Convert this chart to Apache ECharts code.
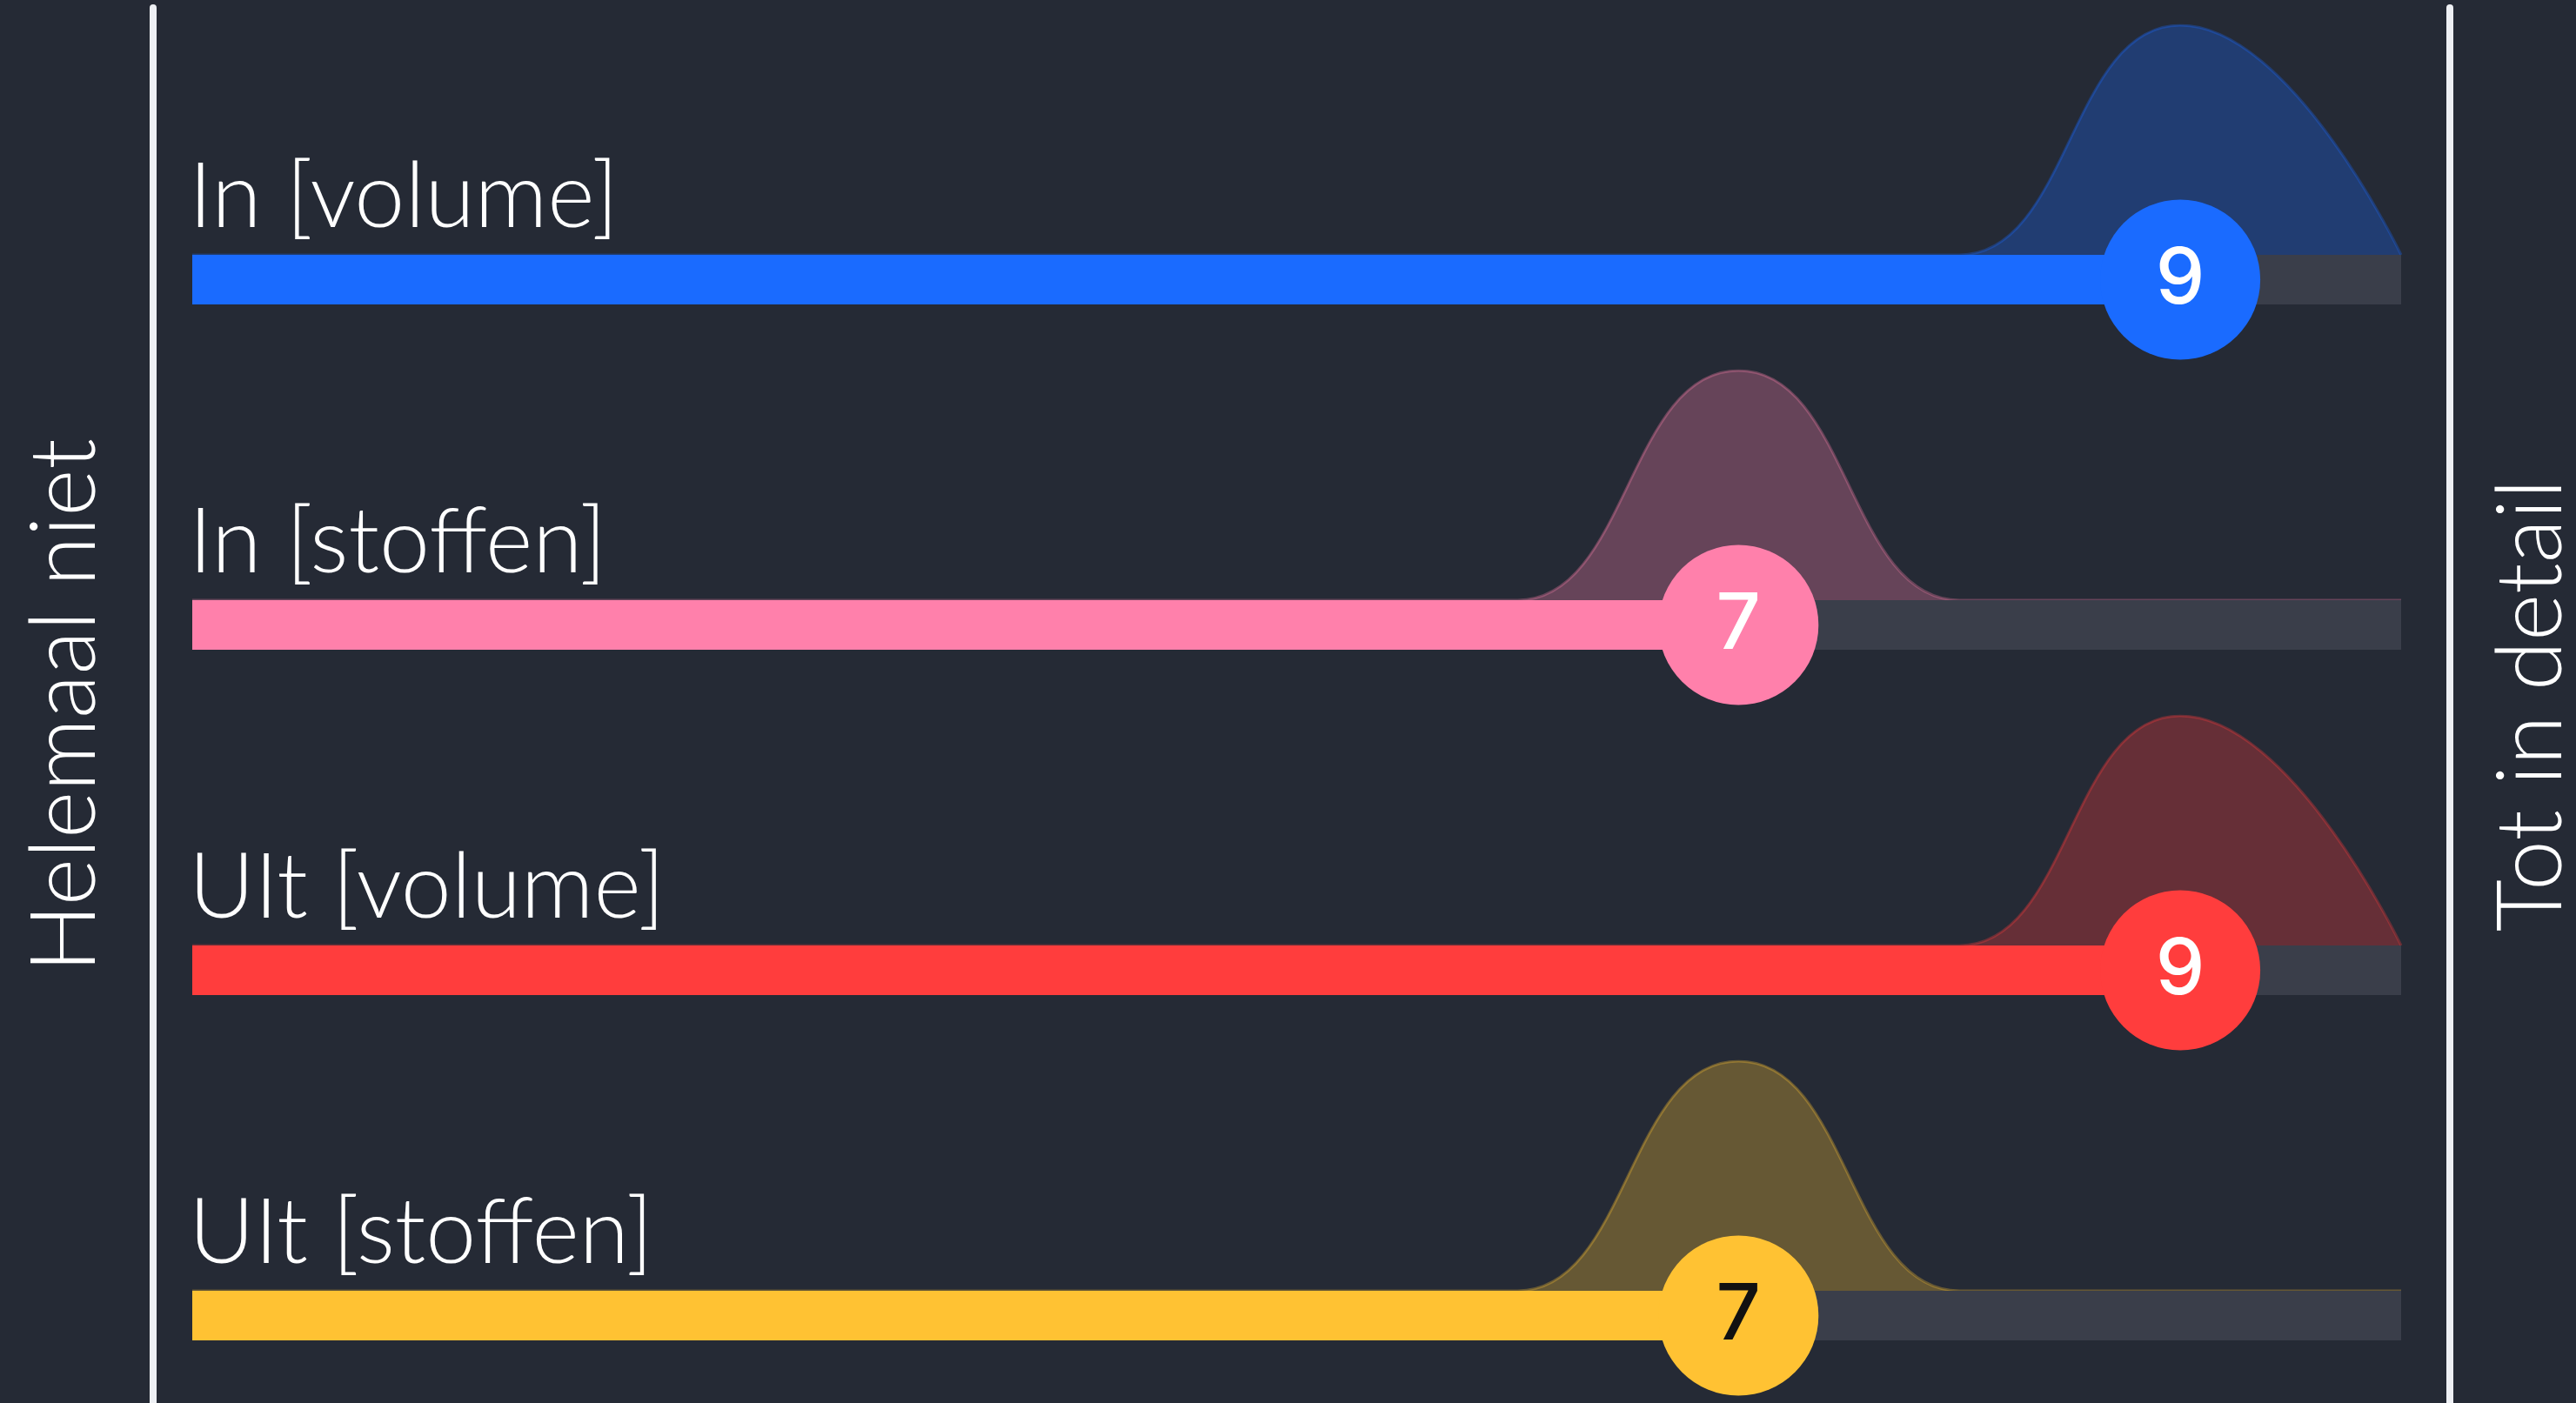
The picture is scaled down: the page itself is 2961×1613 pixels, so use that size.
<!DOCTYPE html>
<html>
<head>
<meta charset="utf-8">
<title>Slider results</title>
<script src="https://cdn.jsdelivr.net/npm/echarts@6/dist/echarts.min.js"></script>
<style>
  html, body { margin: 0; padding: 0; background: #252a35; }
  #chart { width: 2961px; height: 1613px; }
</style>
</head>
<body>
<div id="chart"></div>
<script>
// statements and the answer shown on each slider (scale 0–10)
const statements = ["In [volume]", "In [stoffen]", "UIt [volume]", "UIt [stoffen]"];
const scores = [9, 7, 9, 7];
const endLabels = ["Helemaal niet", "Tot in detail"];

// share of answers per scale value
const scaleValues = [0, 1, 2, 3, 4, 5, 6, 7, 8, 9, 10];
const distInVolume = [0, 0, 0, 0, 0, 0, 0, 0, 0, 1, 0];
const distInStoffen = [0, 0, 0, 0, 0, 0, 0, 1, 0, 0, 0];
const distUitVolume = [0, 0, 0, 0, 0, 0, 0, 0, 0, 1, 0];
const distUitStoffen = [0, 0, 0, 0, 0, 0, 0, 1, 0, 0, 0];
const distributions = [distInVolume, distInStoffen, distUitVolume, distUitStoffen];

const colors = ["#1a6bff", "#ff80ab", "#ff3d3d", "#ffc233"];
const numberColors = ["#ffffff", "#ffffff", "#ffffff", "#111111"];
const trackColor = "#3a3e4a";
const font = "Lato, 'Open Sans', sans-serif";

// layout (px)
const plotLeft = 221, plotRight = 2760;
const firstBase = 293, rowStep = 397; // top edge of each slider bar
const bumpH = 264, barH = 57;
const yMin = -barH / bumpH;
const barMid = yMin / 2;

const chart = echarts.init(document.getElementById("chart"));

const grids = [], xAxes = [], yAxes = [], series = [], titles = [];

statements.forEach((name, i) => {
  const base = firstBase + i * rowStep;
  grids.push({ left: plotLeft, width: plotRight - plotLeft, top: base - bumpH, height: bumpH + barH, outerBoundsMode: "none" });
  xAxes.push({ gridIndex: i, type: "value", min: 0, max: 10, show: false });
  yAxes.push({ gridIndex: i, type: "value", min: yMin, max: 1, show: false });

  titles.push({
    text: name,
    left: plotLeft - 4,
    top: base - 118,
    padding: 0,
    textStyle: { color: "#ffffff", fontSize: 104, fontWeight: 300, fontFamily: font }
  });

  // answer distribution
  series.push({
    type: "line",
    xAxisIndex: i, yAxisIndex: i,
    data: scaleValues.map((v, k) => [v, distributions[i][k]]),
    smooth: 0.5,
    smoothMonotone: "x",
    symbol: "none",
    lineStyle: { color: colors[i], opacity: 0.3, width: 3 },
    areaStyle: { color: colors[i], opacity: 0.3 },
    z: 1, silent: true
  });
  // empty track
  series.push({
    type: "line",
    xAxisIndex: i, yAxisIndex: i,
    data: [[0, barMid], [10, barMid]],
    symbol: "none",
    lineStyle: { color: trackColor, width: barH, cap: "butt" },
    clip: false, z: 2, silent: true
  });
  // filled part
  series.push({
    type: "line",
    xAxisIndex: i, yAxisIndex: i,
    data: [[0, barMid], [scores[i], barMid]],
    symbol: "none",
    lineStyle: { color: colors[i], width: barH, cap: "butt" },
    clip: false, z: 3, silent: true
  });
  // handle with the score
  series.push({
    type: "scatter",
    xAxisIndex: i, yAxisIndex: i,
    data: [[scores[i], barMid]],
    symbolSize: 184,
    itemStyle: { color: colors[i], opacity: 1 },
    label: {
      show: true, position: "inside",
      formatter: () => String(scores[i]),
      color: numberColors[i], fontSize: 90, fontWeight: 500, fontFamily: "Inter, sans-serif"
    },
    clip: false, z: 4, silent: true
  });
});

// frame with the two end labels (names sit outside the grid, don't let it shrink)
grids.push({ left: 176, right: 145, top: 9, bottom: 0, outerBoundsMode: "none" });
xAxes.push({ gridIndex: 4, type: "value", show: false });
const frameAxis = (pos, name, gap) => ({
  gridIndex: 4, type: "value", position: pos,
  axisLine: { show: true, lineStyle: { color: "#eef0f4", width: 8 } },
  axisTick: { show: false }, axisLabel: { show: false }, splitLine: { show: false },
  name: name, nameLocation: "middle", nameRotate: 90, nameGap: gap,
  nameTextStyle: { color: "#ffffff", fontSize: 104, fontWeight: 300, fontFamily: font }
});
yAxes.push(frameAxis("left", endLabels[0], 49));
yAxes.push(frameAxis("right", endLabels[1], 42));

chart.setOption({
  backgroundColor: "#252a35",
  animation: false,
  title: titles,
  grid: grids,
  xAxis: xAxes,
  yAxis: yAxes,
  series: series
});

window.addEventListener("resize", () => chart.resize());
</script>
</body>
</html>
